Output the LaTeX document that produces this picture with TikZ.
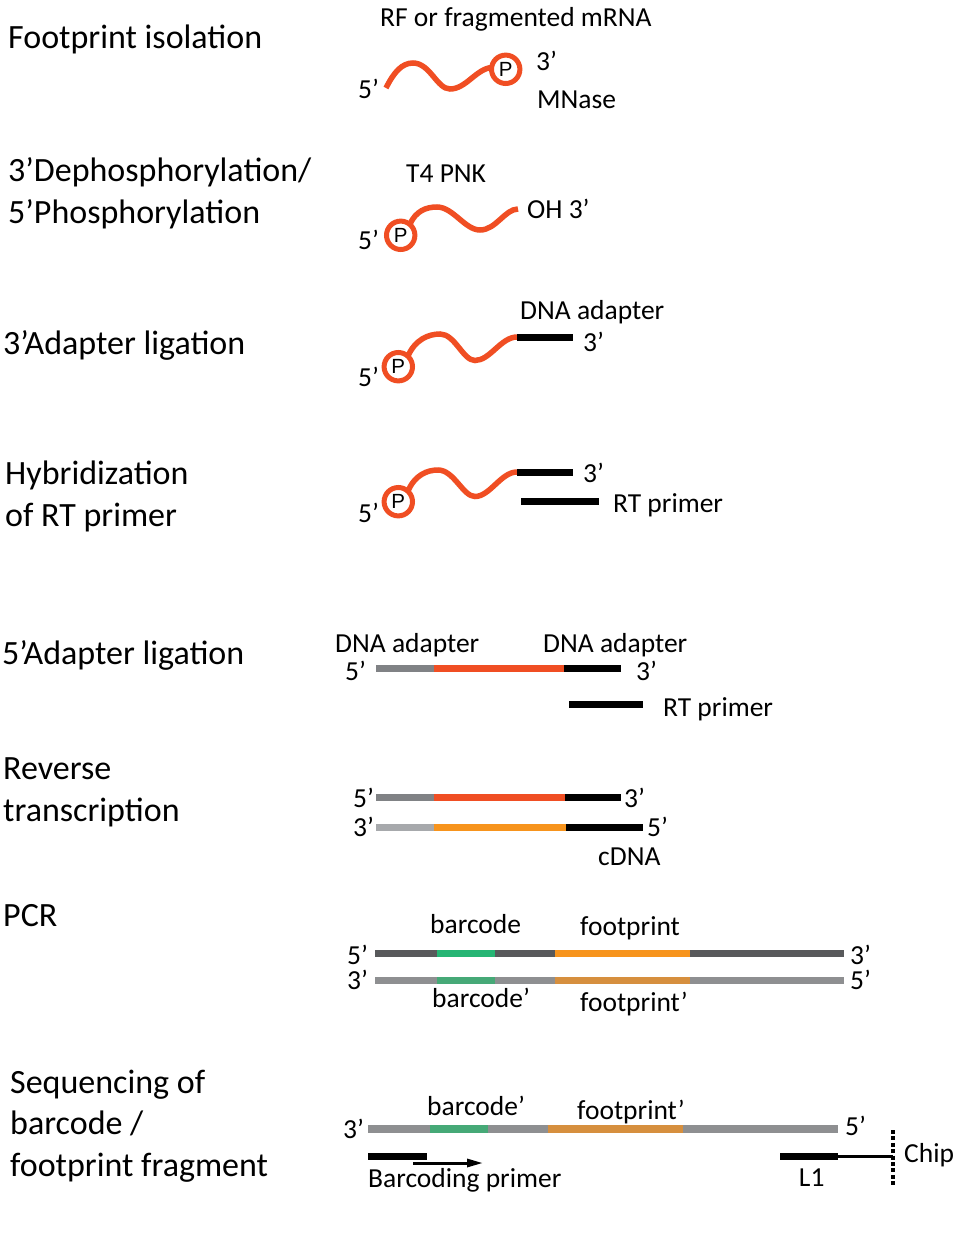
\documentclass[tikz,border=0pt]{standalone}
\usepackage{fontspec}
\setmainfont{Carlito}
\newfontfamily\pfont{Liberation Sans}
\usetikzlibrary{arrows.meta}
\definecolor{rnared}{RGB}{240,78,35}
\definecolor{adgray}{RGB}{128,130,133}
\definecolor{ltgray}{RGB}{167,169,172}
\definecolor{fporange}{RGB}{247,148,29}
\definecolor{dkgray}{RGB}{88,89,91}
\definecolor{bcgreen}{RGB}{38,181,116}
\definecolor{cgray}{RGB}{142,143,145}
\definecolor{cgreen}{RGB}{70,169,119}
\definecolor{corange}{RGB}{214,143,62}
\tikzset{
  head/.style={font=\fontsize{34}{41.5}\selectfont, inner sep=0pt, anchor=base west, align=left},
  lab/.style={font=\fontsize{27.5}{33}\selectfont, inner sep=0pt, anchor=base west},
  pletter/.style={font=\pfont\fontsize{20.5}{20.5}\selectfont, inner sep=0pt, anchor=center},
  rna/.style={draw=rnared, line width=5.5pt},
  pring/.style={draw=rnared, line width=5pt},
  bar/.style={line width=7pt},
  wbar/.style={line width=7.5pt},
  thinline/.style={line width=3pt},
}
\begin{document}
\begin{tikzpicture}[x=1pt,y=-1pt]
\fill[white] (0,0) rectangle (955,1250);
\useasboundingbox (0,0) rectangle (955,1250);

% ---------- headings (base = baseline of last line) ----------
\node[head] (h1) at (8,48) {Footprint isolation};
\node[head] (h2) at (8,223) {3’Dephosphorylation/\\5’Phosphorylation};
\node[head] (h3) at (3,354) {3’Adapter ligation};
\node[head] (h4) at (5,526) {Hybridization\\of RT primer};
\node[head] (h5) at (2,664) {5’Adapter ligation};
\node[head] (h6) at (3,821) {Reverse\\transcription};
\node[head] (h7) at (3,926) {PCR};
\node[head] (h8) at (10,1176) {Sequencing of\\barcode /\\footprint fragment};

% ---------- row 1 ----------
\node[lab] (r1t) at (380,26) {RF or fragmented mRNA};
\coordinate (c1) at (505.7,69.3);
\draw[rna] (386,88) .. controls (394,72) and (402,63) .. (413,63)
  .. controls (430,63) and (437,89) .. (450,89)
  .. controls (466,89) and (476,69) .. (491.5,67.5);
\draw[pring] (c1) circle[radius=14.2];
\node[pletter] (p1) at (c1) {P};
\node[lab] (r1a) at (358,98) {5’};
\node[lab] (r1b) at (536,70) {3’};
\node[lab] (r1c) at (537,108) {MNase};

% ---------- row 2 ----------
\node[lab] (r2t) at (406,182) {T4 PNK};
\coordinate (c2) at (400.7,235.3);
\draw[rna] (410,224) .. controls (416,211) and (426,207) .. (437,207)
  .. controls (453,207) and (465,230) .. (480,230)
  .. controls (496,230) and (505,209) .. (518,209);
\draw[pring] (c2) circle[radius=14.2];
\node[pletter] (p2) at (c2) {P};
\node[lab] (r2a) at (358,249) {5’};
\node[lab] (r2b) at (527,218) {OH 3’};

% ---------- row 3 ----------
\coordinate (c3) at (398.3,366.7);
\coordinate (w3) at (517,337);
\coordinate (a3) at (572.5,337);
\draw[rna] (408,356) .. controls (415,340) and (428,334) .. (440,334)
  .. controls (455,334) and (463,360.5) .. (475,360.5)
  .. controls (490,360.5) and (501,337) .. (w3);
\draw[bar] (w3) -- (a3);
\draw[pring] (c3) circle[radius=14.2];
\node[pletter] (p3) at (c3) {P};
\node[lab] (r3t) at (520,319) {DNA adapter};
\node[lab] (r3a) at (358,386) {5’};
\node[lab] (r3b) at (583,351.5) {3’};

% ---------- row 4 ----------
\coordinate (c4) at (398.3,501.7);
\coordinate (w4) at (517,472);
\coordinate (a4) at (572.5,472);
\draw[rna] (408,491) .. controls (415,475) and (427,470) .. (438,470)
  .. controls (454,470) and (463,496.5) .. (475,496.5)
  .. controls (490,496.5) and (501,472) .. (w4);
\draw[bar] (w4) -- (a4);
\draw[pring] (c4) circle[radius=14.2];
\node[pletter] (p4) at (c4) {P};
\coordinate (rt4a) at (521,501.7);
\coordinate (rt4b) at (598.5,501.7);
\draw[bar] (rt4a) -- (rt4b);
\node[lab] (r4a) at (358,522) {5’};
\node[lab] (r4b) at (583,482) {3’};
\node[lab] (r4c) at (613,512) {RT primer};

% ---------- row 5 ----------
\draw[bar, adgray] (376,668.5) -- (434,668.5);
\draw[bar, rnared] (434,668.5) -- (564,668.5);
\draw[bar, black] (564,668.5) -- (621,668.5);
\draw[bar, black] (569,704) -- (643,704);
\node[lab] (r5t1) at (335,652) {DNA adapter};
\node[lab] (r5t2) at (543,652) {DNA adapter};
\node[lab] (r5a) at (345,680.5) {5’};
\node[lab] (r5b) at (636,680.5) {3’};
\node[lab] (r5c) at (663,716) {RT primer};

% ---------- row 6 ----------
\draw[bar, adgray] (376,797.7) -- (434,797.7);
\draw[bar, rnared] (434,797.7) -- (565,797.7);
\draw[bar, black] (565,797.7) -- (621,797.7);
\draw[bar, ltgray] (376,827.7) -- (434,827.7);
\draw[bar, fporange] (434,827.7) -- (566,827.7);
\draw[bar, black] (566,827.7) -- (643,827.7);
\node[lab] (r6a) at (353,807) {5’};
\node[lab] (r6b) at (624,807) {3’};
\node[lab] (r6c) at (353,836.5) {3’};
\node[lab] (r6d) at (647,836.5) {5’};
\node[lab] (r6e) at (598,865) {cDNA};

% ---------- row 7 (PCR) ----------
\draw[wbar, dkgray] (375,953.5) -- (437,953.5);
\draw[wbar, bcgreen] (437,953.5) -- (495,953.5);
\draw[wbar, dkgray] (495,953.5) -- (555,953.5);
\draw[wbar, fporange] (555,953.5) -- (690,953.5);
\draw[wbar, dkgray] (690,953.5) -- (844,953.5);
\draw[wbar, cgray] (375,980.5) -- (437,980.5);
\draw[wbar, cgreen] (437,980.5) -- (495,980.5);
\draw[wbar, cgray] (495,980.5) -- (555,980.5);
\draw[wbar, corange] (555,980.5) -- (690,980.5);
\draw[wbar, cgray] (690,980.5) -- (844,980.5);
\node[lab] (r7t1) at (430,933) {barcode};
\node[lab] (r7t2) at (580,935) {footprint};
\node[lab] (r7t3) at (432,1007) {barcode’};
\node[lab] (r7t4) at (580,1011) {footprint’};
\node[lab] (r7a) at (347,964) {5’};
\node[lab] (r7b) at (850,964) {3’};
\node[lab] (r7c) at (347,989) {3’};
\node[lab] (r7d) at (850,989) {5’};

% ---------- row 8 (sequencing) ----------
\draw[wbar, cgray] (368,1129) -- (430,1129);
\draw[wbar, cgreen] (430,1129) -- (488,1129);
\draw[wbar, cgray] (488,1129) -- (548,1129);
\draw[wbar, corange] (548,1129) -- (683,1129);
\draw[wbar, cgray] (683,1129) -- (838,1129);
\node[lab] (r8t1) at (427,1115) {barcode’};
\node[lab] (r8t2) at (577,1119) {footprint’};
\node[lab] (r8a) at (343,1138) {3’};
\node[lab] (r8b) at (845,1135) {5’};
\draw[bar, black] (368,1156) -- (427,1156);
\coordinate (arA) at (413,1163);
\coordinate (arB) at (483,1163);
\draw[thinline, -{Triangle[length=16pt,width=8pt]}] (arA) -- (arB);
\node[lab] (r8c) at (368,1187) {Barcoding primer};
\coordinate (l1a) at (780,1156);
\coordinate (l1b) at (838,1156);
\coordinate (chipx) at (893,1156);
\draw[bar, black] (l1a) -- (l1b);
\draw[thinline] (l1b) -- (chipx);
\draw[line width=4pt, dash pattern=on 4pt off 2.4pt] (893,1130) -- (893,1185);
\node[lab, anchor=base] (r8d) at (811.7,1186) {L1};
\node[lab] (r8e) at (904,1162) {Chip};
\end{tikzpicture}
\end{document}
